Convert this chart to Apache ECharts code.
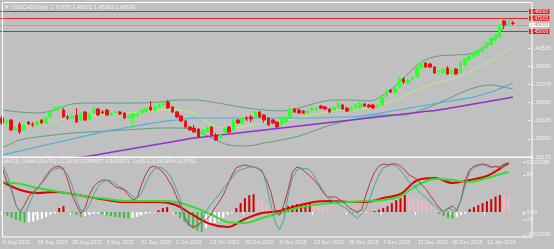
<!DOCTYPE html>
<html><head><meta charset="utf-8">
<script src="https://cdn.jsdelivr.net/npm/echarts@6/dist/echarts.min.js"></script>
<style>html,body{margin:0;padding:0;background:#c0c0c0}#c{width:554px;height:249px}</style>
</head><body><div id="c"></div>
<script>
// ---------- DATA ----------
const openP = [1.32025,1.31275,1.31725,1.30225,1.31125,1.30225,1.31425,1.31125,1.30975,1.31725,
1.31275,1.32175,1.33225,1.33375,1.33225,1.32175,1.32025,1.32475,1.31725,1.32925,
1.31875,1.32775,1.33375,1.32925,1.33225,1.32475,1.32775,1.32925,1.32775,1.32025,
1.32025,1.32325,1.32775,1.32925,1.33675,1.33225,1.33675,1.33975,1.34425,1.33675,
1.32925,1.32325,1.31575,1.30675,1.30525,1.30375,1.29775,1.29925,1.30675,1.29475,
1.29025,1.29775,1.30675,1.30225,1.31725,1.31275,1.32025,1.32175,1.32175,1.32925,
1.32475,1.32025,1.31725,1.31425,1.30975,1.31425,1.32025,1.33375,1.33225,1.33075,
1.32775,1.33225,1.33225,1.33825,1.33675,1.33375,1.33225,1.33525,1.33975,1.33525,
1.33225,1.33525,1.33525,1.34125,1.33975,1.33975,1.33675,1.33975,1.35175,1.36225,
1.35775,1.36675,1.37875,1.37275,1.37725,1.38175,1.39525,1.40275,1.40125,1.39675,
1.38925,1.38775,1.39525,1.38775,1.39375,1.38775,1.39975,1.40725,1.41175,1.41475,
1.41925,1.42525,1.42975,1.43725,1.44175,1.46575,1.46125,1.46275];
const highP = [1.32325,1.31875,1.31875,1.30825,1.31425,1.31125,1.31575,1.31425,1.31575,1.31875,
1.32175,1.33075,1.33825,1.33975,1.33525,1.32475,1.32625,1.33525,1.32925,1.33075,
1.32775,1.33525,1.33525,1.33225,1.33375,1.32925,1.33075,1.33075,1.32925,1.32475,
1.32775,1.32925,1.33375,1.33675,1.34575,1.33825,1.34425,1.34425,1.34725,1.33825,
1.33075,1.32475,1.31725,1.30825,1.30975,1.30525,1.30375,1.30825,1.30825,1.29775,
1.29625,1.30675,1.30825,1.31875,1.31875,1.32175,1.32325,1.32475,1.33075,1.33075,
1.32625,1.32175,1.31875,1.31575,1.32175,1.32325,1.33525,1.33525,1.33375,1.33225,
1.33225,1.33675,1.33675,1.33975,1.33825,1.33525,1.33825,1.34425,1.34125,1.33675,
1.33825,1.34125,1.34425,1.34275,1.34125,1.34125,1.34125,1.35325,1.36375,1.36375,
1.36675,1.38175,1.38175,1.37875,1.38325,1.39825,1.40425,1.40425,1.40275,1.39825,
1.39225,1.39525,1.39825,1.39375,1.39525,1.40575,1.41025,1.41475,1.41925,1.42375,
1.42825,1.43425,1.44175,1.44625,1.46125,1.46725,1.46575,1.46575];
const lowP = [1.30975,1.30975,1.30075,1.30075,1.29625,1.30075,1.30975,1.30675,1.30675,1.31125,
1.31125,1.32025,1.33075,1.33225,1.32025,1.31725,1.31875,1.31275,1.31575,1.31575,
1.31725,1.32625,1.32325,1.32625,1.32325,1.32325,1.32625,1.32475,1.31875,1.32025,
1.30525,1.32175,1.32625,1.32775,1.33075,1.33075,1.33525,1.33825,1.33375,1.32775,
1.32025,1.31425,1.30525,1.30075,1.29775,1.29025,1.29475,1.29775,1.29325,1.28575,
1.28725,1.29625,1.29775,1.30075,1.31125,1.31125,1.31575,1.31425,1.32025,1.32025,
1.31275,1.30825,1.31125,1.30525,1.30825,1.31275,1.31875,1.32775,1.32625,1.32625,
1.32625,1.33075,1.33075,1.33375,1.33225,1.32775,1.33075,1.33375,1.33225,1.32925,
1.33075,1.33375,1.33375,1.33675,1.33525,1.33375,1.33525,1.33825,1.35025,1.35775,
1.35625,1.36525,1.37125,1.36975,1.37575,1.38025,1.39375,1.39525,1.39525,1.38625,
1.38475,1.38625,1.38475,1.38625,1.38475,1.38625,1.39825,1.40575,1.41025,1.41325,
1.41775,1.42375,1.42825,1.43575,1.44025,1.45375,1.45975,1.45975];
const closeP = [1.31275,1.31575,1.30225,1.30525,1.29925,1.30975,1.31125,1.30975,1.31425,1.31275,
1.32025,1.32925,1.33525,1.33675,1.32175,1.32025,1.32325,1.31425,1.32775,1.31725,
1.32625,1.33375,1.32475,1.32775,1.32475,1.32775,1.32925,1.32625,1.32025,1.32325,
1.32625,1.32775,1.33225,1.33525,1.33225,1.33675,1.34125,1.34275,1.33525,1.32925,
1.32175,1.31575,1.30675,1.30225,1.29925,1.29175,1.30225,1.30675,1.29475,1.28725,
1.29475,1.30525,1.29925,1.31725,1.31275,1.32025,1.31875,1.31875,1.32925,1.32175,
1.31725,1.30975,1.31275,1.30675,1.32025,1.32175,1.33375,1.32925,1.32775,1.32775,
1.33075,1.33525,1.33525,1.33525,1.33375,1.32925,1.33675,1.34275,1.33375,1.33075,
1.33675,1.33975,1.34275,1.33825,1.33675,1.33525,1.33975,1.35175,1.36225,1.35925,
1.36525,1.38025,1.37425,1.37725,1.38175,1.39675,1.40275,1.39675,1.39675,1.38775,
1.39075,1.39375,1.38625,1.39225,1.38625,1.40425,1.40875,1.41325,1.41775,1.42225,
1.42675,1.43275,1.44025,1.44475,1.45975,1.45975,1.46275,1.46215];

const knotBars = [0,4,8,12,16,20,24,28,32,36,40,44,48,52,56,60,64,68,72,76,80,84,88,92,96,100,104,108,112,116,117];
const bbUpper = [1.33225,1.32925,1.32775,1.33225,1.34125,1.34275,1.34275,1.34275,1.34275,1.34425,1.34725,1.34725,1.34425,1.33975,1.33525,1.33225,1.33075,1.33525,1.34275,1.34725,1.34725,1.34575,1.35775,1.38025,1.40425,1.41325,1.41475,1.41775,1.43425,1.46425,1.47025];
const bbMiddle = [1.31125,1.30975,1.31125,1.31575,1.32175,1.32325,1.32625,1.32775,1.32925,1.33225,1.33225,1.32775,1.30975,1.30525,1.30825,1.31275,1.31575,1.32025,1.32625,1.33075,1.33375,1.33525,1.34275,1.35325,1.36525,1.37425,1.38025,1.39225,1.40725,1.42225,1.42525];
const bbLower = [1.27525,1.28725,1.29175,1.29475,1.29775,1.29925,1.30075,1.30225,1.30375,1.30525,1.30525,1.30225,1.29025,1.27975,1.27825,1.28275,1.28725,1.29325,1.30225,1.31125,1.31725,1.32175,1.32475,1.32475,1.33225,1.34275,1.35475,1.36525,1.36975,1.36525,1.36375];
const maCyan = [1.26475,1.27075,1.27675,1.28275,1.28875,1.29475,1.30075,1.30525,1.30975,1.31425,1.31725,1.32025,1.32025,1.32025,1.32025,1.32025,1.32025,1.32025,1.32025,1.32175,1.32175,1.32475,1.32925,1.33375,1.33825,1.34275,1.34725,1.35175,1.35925,1.36975,1.37275];
const maPurple = [null,null,null,1.25575,1.26025,1.26325,1.26775,1.27225,1.27675,1.28125,1.28575,1.29025,1.29325,1.29625,1.29925,1.30225,1.30525,1.30825,1.31125,1.31425,1.31725,1.32025,1.32325,1.32625,1.32925,1.33225,1.33675,1.34125,1.34575,1.35025,1.35175];
const macdMain = [0.01523,0.01117,0.00964,0.01015,0.00914,0.00761,0.00609,0.00508,0.00508,0.00508,0.00355,-0.00152,-0.00609,-0.00761,-0.00355,-0.00051,0.00051,0.00305,0.00508,0.00558,0.00508,0.00508,0.00711,0.00914,0.01624,0.01726,0.01472,0.01624,0.01827,0.02335,0.02487];
const macdSignal = [0.01523,0.01421,0.01218,0.01066,0.00914,0.00761,0.0066,0.00558,0.00558,0.00558,0.00508,0.00254,-0.00102,-0.00508,-0.00558,-0.00305,-0.00051,0.00203,0.00355,0.00457,0.00508,0.00558,0.00609,0.00812,0.01371,0.01675,0.01624,0.01523,0.01726,0.0198,0.0203];
const osma = [-0.001,-0.002,-0.003,-0.004,-0.0045,-0.0055,-0.0052,-0.0048,-0.0042,-0.0034,
-0.0025,-0.0015,-0.0008,0.002,0.003,0.0015,-0.0005,-0.0015,-0.0025,-0.002,
-0.0015,-0.001,-0.0008,-0.0012,-0.0018,-0.0022,-0.0025,-0.0027,-0.003,-0.0033,
-0.003,-0.0025,-0.0018,-0.001,-0.0006,-0.0003,0.001,0.002,0.0025,0.0015,
-0.001,-0.003,-0.005,-0.007,-0.0085,-0.0095,-0.0102,-0.008,-0.0065,-0.0055,
-0.0045,-0.003,-0.0015,-0.0005,0.002,0.0045,0.007,0.0085,0.009,0.007,
0.0055,0.004,0.0025,0.0005,0.001,0.002,0.003,0.0035,0.004,0.0042,
0.0045,0.0046,0.004,0.0033,0.0025,0.0018,0.0012,0.0008,0.0005,0.0003,
-0.0003,-0.0006,-0.0008,-0.0004,-0.0002,0.0001,0.0005,0.0012,0.002,0.003,
0.0045,0.006,0.007,0.0086,0.0082,0.0075,0.0068,0.006,0.005,0.003,
0.001,-0.001,-0.002,-0.003,-0.0033,-0.0025,-0.0015,-0.0008,0.0015,0.0025,
0.0035,0.0045,0.0055,0.0065,0.0078,0.0086,0.0084,0.0078];
const stochMain = [87,69,60,39,30,39,51,57,62,70, 79,87,91,92,89,73,53,39,28,35,
53,64,70,73,73,69,64,62,60,53, 46,48,66,80,90,92,89,84,76,66,
53,39,23,13,9,12,16,19,25,35, 43,53,66,80,90,92,94,92,91,89,
84,73,57,32,25,39,60,84,91,89, 84,79,73,66,57,50,50,50,46,42,
36,32,30,32,53,70,84,92,95,94, 95,95,92,87,80,77,73,66,60,51,
43,35,30,34,38,32,46,73,87,92, 94,95,94,91,92,91,95,96];
const stochSignal = [92,80,60,39,30,28,39,53,62,69, 76,84,88,90,87,80,66,46,32,30,
39,53,64,70,73,72,68,64,61,57, 51,48,55,68,80,88,91,89,84,76,
62,48,19,11,8,9,16,30,39,46, 53,62,69,76,84,87,89,91,91,89,
87,66,39,16,5,19,53,76,87,89, 89,87,79,69,60,50,46,43,39,36,
32,25,21,27,35,49,66,80,90,92, 94,92,87,79,70,66,60,53,49,42,
38,32,30,36,32,30,46,66,84,90, 92,94,92,90,91,90,92,94];
const pivotLevels = [1.48225,1.47625,1.47025,1.45825,1.45225,1.44625];
const priceTicks = [1.26175,1.28900,1.31625,1.34350,1.37075,1.39800,1.42525];
const macdTicks = [0.025385, 0, -0.011590];
const stochTicks = [80, 20];
const extraDays = ['1 Nov 2015'];
const skipDays = ['25 Dec 2015', '1 Jan 2016'];
const futureSlots = 3;
const headerText = '\u25BC USDCAD,Daily  1.45757 1.46872 1.45363 1.45699';
const macdText = 'MACD_OsMA [OutTF] (12,26,9) 0.0265657 0.0195971  Sto(5,3,3) 89.0864 91.6751';

// ---------- BUILD ----------
const MONTHS = ['Jan','Feb','Mar','Apr','May','Jun','Jul','Aug','Sep','Oct','Nov','Dec'];
const fmt = d => d.getUTCDate() + ' ' + MONTHS[d.getUTCMonth()] + ' ' + d.getUTCFullYear();
const categories = [];
let d = new Date(Date.UTC(2015, 7, 6));
while (categories.length < closeP.length + futureSlots) {
  const s = fmt(d), wd = d.getUTCDay();
  if ((wd >= 1 && wd <= 5 && !skipDays.includes(s)) || extraDays.includes(s)) categories.push(s);
  d = new Date(d.getTime() + 86400000);
}
const candles = closeP.map((c, i) => [openP[i], c, lowP[i], highP[i]]);
const knots = arr => knotBars.map((b, k) => [b, arr[k]]).filter(p => p[1] !== null);
const labelEvery = (idx) => idx % 8 === 0 && idx <= 112;
const FONT = 'Liberation Sans';
const TXT = '#f2f2f2';

const chart = echarts.init(document.getElementById('c'), null, {renderer: 'canvas'});
const lineS = (name, data, color, width, x, y, smooth) => ({
  name, type: 'line', data, xAxisIndex: x, yAxisIndex: y, showSymbol: false, symbol: 'none',
  smooth: smooth, connectNulls: true, lineStyle: {color, width}, silent: true, z: 3
});

chart.setOption({
  animation: false,
  backgroundColor: '#c0c0c0',
  grid: [
    {left: 0, right: 22, top: 3, height: 154},
    {left: 0, right: 22, top: 157, height: 80}
  ],
  xAxis: [
    {type: 'category', gridIndex: 0, data: categories, boundaryGap: true, show: false},
    {type: 'category', gridIndex: 1, data: categories, boundaryGap: true,
     axisLine: {show: false},
     axisTick: {show: true, interval: labelEvery, length: 3, lineStyle: {color: '#ffffff'}},
     axisLabel: {interval: labelEvery, color: TXT, fontSize: 5.3, fontFamily: FONT, align: 'left', margin: 3},
     splitLine: {show: false}}
  ],
  yAxis: [
    {type: 'value', gridIndex: 0, position: 'right', min: 1.26175, max: 1.49275, scale: true,
     axisLine: {show: false}, splitLine: {show: false},
     axisTick: {show: true, customValues: priceTicks, length: 2, lineStyle: {color: '#fff'}},
     axisLabel: {customValues: priceTicks, formatter: v => v.toFixed(5), color: TXT, fontSize: 5.5, fontFamily: FONT, margin: 3}},
    {type: 'value', gridIndex: 1, position: 'right', min: -0.01269, max: 0.02792,
     axisLine: {show: false}, splitLine: {show: false},
     axisTick: {show: true, customValues: macdTicks, length: 2, lineStyle: {color: '#fff'}},
     axisLabel: {customValues: macdTicks, formatter: v => v === 0 ? '0.00' : v.toFixed(6), color: TXT, fontSize: 5.5, fontFamily: FONT, margin: 3}},
    {type: 'value', gridIndex: 1, position: 'right', min: -4.5, max: 104.5,
     axisLine: {show: false}, splitLine: {show: false},
     axisTick: {show: true, customValues: stochTicks, length: 2, lineStyle: {color: '#fff'}},
     axisLabel: {customValues: stochTicks, formatter: v => String(v), color: TXT, fontSize: 5.5, fontFamily: FONT, margin: 3}}
  ],
  series: [
    lineS('BB upper', knots(bbUpper), '#5f9f7c', 1, 0, 0, 0.35),
    lineS('BB lower', knots(bbLower), '#5f9f7c', 1, 0, 0, 0.35),
    lineS('BB middle', knots(bbMiddle), '#b6f08a', 1, 0, 0, 0.35),
    lineS('MA cyan', knots(maCyan), '#3fb0e4', 1.2, 0, 0, 0.35),
    lineS('MA purple', knots(maPurple), '#9030d0', 1.5, 0, 0, 0.35),
    {
      name: 'USDCAD', type: 'candlestick', xAxisIndex: 0, yAxisIndex: 0, data: candles, z: 5,
      barWidth: 3, silent: true,
      itemStyle: {color: '#33ff33', color0: '#ee1111', borderColor: '#33ff33', borderColor0: '#ee1111', borderWidth: 1},
      markLine: {
        symbol: 'none', silent: true, animation: false,
        lineStyle: {color: '#e02828', width: 1.2, type: 'solid', opacity: 1},
        label: {position: 'end', distance: 1, formatter: p => p.value.toFixed(5), color: '#ffffff',
                backgroundColor: '#ee1111', fontSize: 5, lineHeight: 5, padding: [0, 1], fontFamily: FONT},
        data: pivotLevels.map(v => ({yAxis: v})).concat([{
          yAxis: closeP[closeP.length - 1],
          lineStyle: {color: '#a9a9a9', width: 1, opacity: 1},
          label: {backgroundColor: '#ffffff', color: '#888888'}
        }])
      }
    },
    {
      name: 'OsMA', type: 'bar', xAxisIndex: 1, yAxisIndex: 1, data: osma, barWidth: 2, silent: true, z: 2,
      itemStyle: {color: p => {
        const i = p.dataIndex, v = osma[i], pv = i > 0 ? osma[i - 1] : v;
        if (v >= 0) return v >= pv ? '#d40000' : '#f4b8c4';
        return v <= pv ? '#3cc03c' : '#ffffff';
      }}
    },
    lineS('MACD', knots(macdMain), '#e00000', 2, 1, 1, 0.35),
    lineS('Signal', knots(macdSignal), '#33dd33', 2, 1, 1, 0.35),
    lineS('Sto main', stochMain, '#c03434', 1, 1, 2, false),
    lineS('Sto signal', stochSignal, '#4aa0a4', 1, 1, 2, false)
  ],
  graphic: [
    {type: 'rect', z: 100, silent: true, shape: {x: 2.5, y: 2.5, width: 529.5, height: 154.5},
     style: {fill: 'none', stroke: '#ffffff', lineWidth: 1}},
    {type: 'rect', z: 100, silent: true, shape: {x: 2.5, y: 157.5, width: 529.5, height: 79.5},
     style: {fill: 'none', stroke: '#ffffff', lineWidth: 1}},
    {type: 'text', z: 100, silent: true, x: 4, y: 4,
     style: {text: headerText, fill: TXT, font: '5.5px "Liberation Sans"'}},
    {type: 'text', z: 100, silent: true, x: 4, y: 159,
     style: {text: macdText, fill: TXT, font: '5.2px "Liberation Sans"'}}
  ]
});
</script>
</body></html>
